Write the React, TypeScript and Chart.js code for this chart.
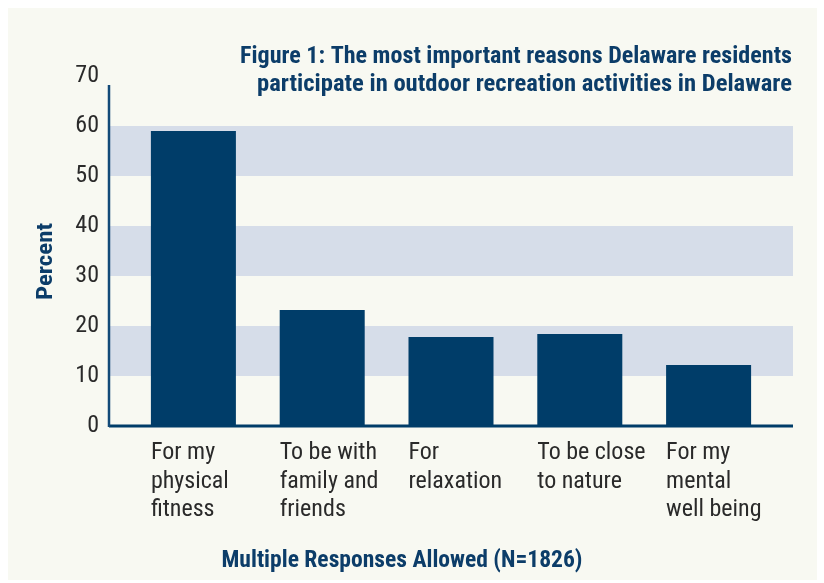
import React, { useEffect, useRef } from "react";
import { Chart, registerables } from "chart.js";

Chart.register(...registerables);

const categories: string[][] = [
  ["For my", "physical", "fitness"],
  ["To be with", "family and", "friends"],
  ["For", "relaxation"],
  ["To be close", "to nature"],
  ["For my", "mental", "well being"],
];
const percentValues: number[] = [59, 23.2, 17.8, 18.4, 12.2];
const yMin = 0;
const yMax = 70;
const yStep = 10;
const shadedBands: number[][] = [
  [10, 20],
  [30, 40],
  [50, 60],
];
const titleLines: string[] = [
  "Figure 1: The most important reasons Delaware residents",
  "participate in outdoor recreation activities in Delaware",
];
const yAxisTitle = "Percent";
const xAxisTitle = "Multiple Responses Allowed (N=1826)";

const FONT = '"Roboto Condensed", "Liberation Sans Narrow", "DejaVu Sans Condensed", sans-serif';
const NAVY = "#003d69";
const TITLE_NAVY = "#0c3d69";
const BAND = "#d6dde9";
const BG = "#f8f9f2";
const TEXT = "#2a2a2a";

function fitText(ctx: any, text: string, x: number, y: number, targetW: number) {
  const w = ctx.measureText(text).width;
  const s = targetW / w;
  ctx.save();
  ctx.translate(x, y);
  ctx.scale(s, 1);
  ctx.fillText(text, 0, 0);
  ctx.restore();
}

const decorPlugin = {
  id: "decor",
  beforeDraw(chart: any) {
    const { ctx, width, height } = chart;
    ctx.save();
    ctx.fillStyle = BG;
    ctx.fillRect(0, 0, width, height);
    ctx.restore();
  },
  beforeDatasetsDraw(chart: any) {
    const { ctx, chartArea, scales } = chart;
    const y = scales.y;
    ctx.save();
    ctx.fillStyle = BAND;
    const l = chartArea.left - 20;
    const r = chartArea.right + 20;
    shadedBands.forEach(([a, b]) => {
      const top = y.getPixelForValue(b);
      const bot = y.getPixelForValue(a);
      ctx.fillRect(l, top, r - l, bot - top);
    });
    ctx.restore();
  },
  afterDatasetsDraw(chart: any) {
    const { ctx, chartArea, scales } = chart;
    const y = scales.y;
    const l = chartArea.left - 20;
    const r = chartArea.right + 20;
    const base = y.getPixelForValue(0);
    ctx.save();
    ctx.strokeStyle = NAVY;
    ctx.lineWidth = 3;
    ctx.beginPath();
    ctx.moveTo(l, base);
    ctx.lineTo(r, base);
    ctx.stroke();
    ctx.strokeStyle = "#124a78";
    ctx.lineWidth = 2.5;
    ctx.beginPath();
    ctx.moveTo(l, chartArea.top + 9);
    ctx.lineTo(l, base + 1);
    ctx.stroke();
    ctx.restore();
  },
  afterDraw(chart: any) {
    const { ctx, chartArea } = chart;
    ctx.save();
    ctx.fillStyle = TITLE_NAVY;
    ctx.font = `bold 23px ${FONT}`;
    ctx.textAlign = "right";
    ctx.textBaseline = "alphabetic";
    const right = chartArea.right + 19;
    fitText(ctx, titleLines[0], right, 55, 552);
    fitText(ctx, titleLines[1], right, 83, 535);

    ctx.textAlign = "center";
    ctx.textBaseline = "middle";
    ctx.font = `bold 23px ${FONT}`;
    fitText(ctx, xAxisTitle, 394, 553, 361);

    ctx.save();
    ctx.translate(38.5, 253.5);
    ctx.rotate(-Math.PI / 2);
    ctx.font = `bold 22px ${FONT}`;
    fitText(ctx, yAxisTitle, 0, 0, 77);
    ctx.restore();
    ctx.restore();
  },
};

export default function App() {
  const ref = useRef<HTMLCanvasElement | null>(null);

  useEffect(() => {
    document.body.style.margin = "0";
    const canvas = ref.current;
    if (!canvas) return;
    const chart = new Chart(canvas, {
      type: "bar",
      data: {
        labels: categories,
        datasets: [
          {
            data: percentValues,
            backgroundColor: NAVY,
            borderWidth: 0,
            barPercentage: 0.66,
            categoryPercentage: 1,
          },
        ],
      },
      options: {
        responsive: false,
        animation: false,
        devicePixelRatio: 1,
        layout: { padding: { top: 68, right: 44, left: 0, bottom: 0 } },
        plugins: {
          legend: { display: false },
          title: { display: false },
          tooltip: { enabled: false },
        },
        scales: {
          x: {
            grid: { display: false, drawTicks: false },
            border: { display: false },
            ticks: {
              color: TEXT,
              font: { family: FONT, size: 24, lineHeight: 1.19 },
              align: "start",
              labelOffset: -42.5,
              padding: 13,
              maxRotation: 0,
              minRotation: 0,
              autoSkip: false,
            },
            afterFit: (s: any) => {
              s.height = 154;
              s.paddingLeft = 0;
              s.paddingRight = 0;
            },
          },
          y: {
            min: yMin,
            max: yMax,
            grid: { display: false, drawTicks: false },
            border: { display: false },
            ticks: {
              stepSize: yStep,
              color: TEXT,
              font: { family: FONT, size: 24 },
              padding: 30,
            },
            afterFit: (s: any) => {
              s.width = 121;
            },
          },
        },
      },
      plugins: [decorPlugin],
    });
    return () => chart.destroy();
  }, []);

  return (
    <div
      style={{
        width: 824,
        height: 583,
        boxSizing: "border-box",
        padding: "8px 0 0 8px",
        background: "#ffffff",
        overflow: "hidden",
      }}
    >
      <canvas ref={ref} width={809} height={572} style={{ display: "block" }} />
    </div>
  );
}
